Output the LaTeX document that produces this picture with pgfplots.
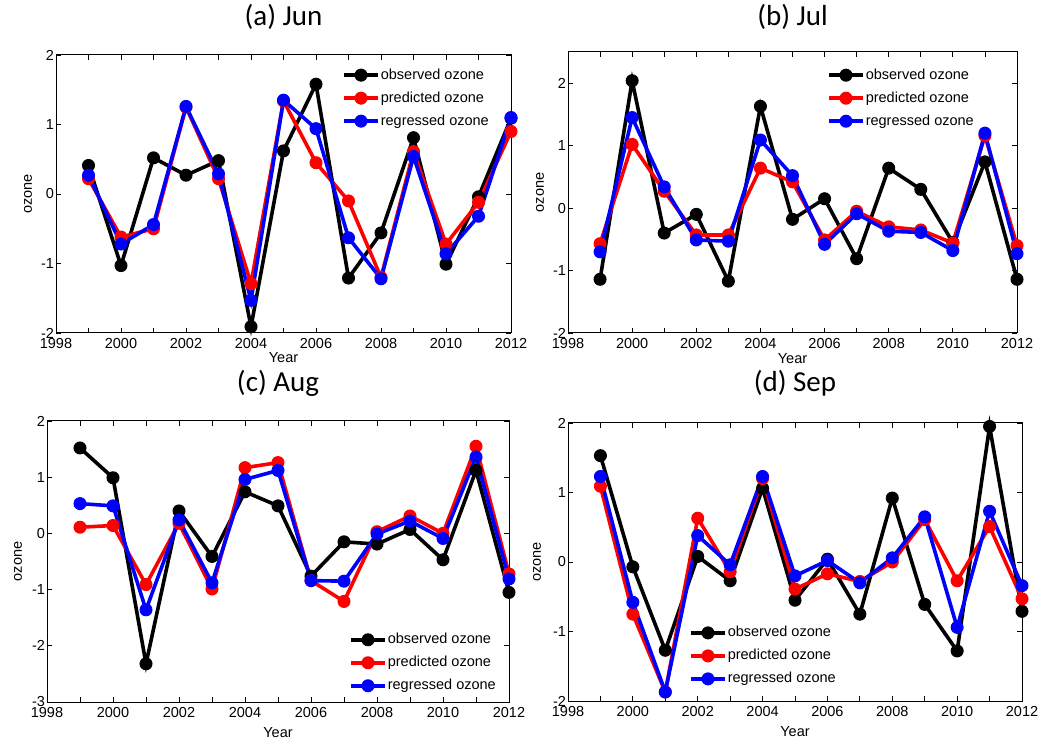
\documentclass[border=0pt]{standalone}
\usepackage{fontspec}
\setmainfont{Liberation Sans}
\newfontfamily\calibri{Carlito}
\usepackage{pgfplots}
\usepackage{pgfplotstable}
\pgfplotsset{compat=1.18}

\pgfplotstableread{
year obs pred reg
1999 0.41 0.22 0.27
2000 -1.03 -0.62 -0.72
2001 0.52 -0.50 -0.44
2002 0.27 1.25 1.26
2003 0.48 0.22 0.29
2004 -1.91 -1.29 -1.53
2005 0.62 1.34 1.35
2006 1.58 0.45 0.94
2007 -1.21 -0.10 -0.63
2008 -0.56 -1.20 -1.22
2009 0.81 0.61 0.54
2010 -1.01 -0.72 -0.86
2011 -0.04 -0.12 -0.32
2012 1.09 0.90 1.10
}\tabA

\pgfplotstableread{
year obs pred reg
1999 -1.14 -0.57 -0.70
2000 2.04 1.02 1.45
2001 -0.40 0.27 0.34
2002 -0.10 -0.43 -0.51
2003 -1.17 -0.43 -0.53
2004 1.63 0.64 1.09
2005 -0.18 0.42 0.52
2006 0.15 -0.51 -0.58
2007 -0.81 -0.05 -0.09
2008 0.64 -0.30 -0.37
2009 0.30 -0.35 -0.39
2010 -0.55 -0.56 -0.68
2011 0.74 1.16 1.20
2012 -1.14 -0.60 -0.73
}\tabB

\pgfplotstableread{
year obs pred reg
1999 1.52 0.11 0.53
2000 0.99 0.14 0.49
2001 -2.32 -0.91 -1.36
2002 0.40 0.18 0.24
2003 -0.41 -0.99 -0.88
2004 0.74 1.17 0.96
2005 0.49 1.26 1.12
2006 -0.76 -0.84 -0.84
2007 -0.15 -1.21 -0.85
2008 -0.19 0.03 -0.01
2009 0.07 0.31 0.22
2010 -0.47 0.00 -0.09
2011 1.12 1.55 1.36
2012 -1.05 -0.72 -0.81
}\tabC

\pgfplotstableread{
year obs pred reg
1999 1.53 1.09 1.23
2000 -0.07 -0.75 -0.58
2001 -1.27 -1.87 -1.87
2002 0.08 0.63 0.38
2003 -0.27 -0.14 -0.04
2004 1.06 1.20 1.23
2005 -0.55 -0.39 -0.20
2006 0.04 -0.17 0.02
2007 -0.75 -0.28 -0.30
2008 0.92 0.00 0.06
2009 -0.61 0.61 0.65
2010 -1.28 -0.27 -0.94
2011 1.95 0.51 0.73
2012 -0.71 -0.53 -0.34
}\tabD

\newcommand\lblfont{\fontsize{14.5bp}{16bp}\selectfont}

\pgfplotsset{
  panel/.style={
    scale only axis, clip=false,
    xmin=1998, xmax=2012,
    xtick={1998,2000,...,2012},
    minor xtick={1999,2001,...,2011},
    major tick length=5bp, minor tick length=5bp,
    tick style={black, line width=0.8bp},
    axis line style={line width=1bp},
    /pgf/number format/assume math mode=true,
    /pgf/number format/1000 sep={},
    ticklabel style={font=\lblfont},
    xticklabel style={yshift=-2bp},
    yticklabel style={xshift=1.5bp},
    xlabel={Year}, ylabel={ozone},
    legend style={draw=none, fill=none, inner sep=0pt,
      font=\fontsize{14.5bp}{17bp}\selectfont, row sep=7bp,
      nodes={inner sep=1bp, text height=11bp, text depth=3bp}},
    legend cell align=left,
    legend image code/.code={\draw[mark repeat=2,mark phase=2]
      plot coordinates {(0bp,0bp) (17bp,0bp) (34bp,0bp)};},
    every axis plot/.append style={line width=3.6bp, mark=*, mark size=6bp,
      mark options={solid, line width=1bp}},
    title style={font=\calibri\fontsize{29bp}{32bp}\selectfont},
  },
}

\begin{document}
\begin{tikzpicture}
\useasboundingbox (0,0) rectangle (1041bp,744bp);

% (a) Jun
\begin{axis}[panel, at={(56bp,411bp)}, anchor=south west,
  width=455bp, height=278bp, ymin=-2, ymax=2, ytick={-2,-1,0,1,2},
  title={(a) Jun},
  title style={at={(axis description cs:0.5,1)}, anchor=base, yshift=23.5bp},
  every axis x label/.style={at={(axis description cs:0.5,-0.09)}, anchor=center, font=\lblfont},
  every axis y label/.style={at={(axis description cs:-0.0615,0.5)}, rotate=90, anchor=center, font=\lblfont},
  legend style={at={(0.6286,0.957)}, anchor=north west}]
\addplot[black] table[x=year,y=obs]{\tabA};
\addplot[red] table[x=year,y=pred]{\tabA};
\addplot[blue] table[x=year,y=reg]{\tabA};
\legend{observed ozone, predicted ozone, regressed ozone}
\end{axis}

% (b) Jul
\begin{axis}[panel, at={(568bp,411bp)}, anchor=south west,
  width=449bp, height=281bp, ymin=-2, ymax=2.5, ytick={-2,-1,0,1,2},
  title={(b) Jul},
  title style={at={(axis description cs:0.5,1)}, anchor=base, yshift=20.5bp},
  every axis x label/.style={at={(axis description cs:0.5,-0.09)}, anchor=center, font=\lblfont},
  every axis y label/.style={at={(axis description cs:-0.0624,0.5)}, rotate=90, anchor=center, font=\lblfont},
  legend style={at={(0.5768,0.9466)}, anchor=north west}]
\addplot[black] table[x=year,y=obs]{\tabB};
\addplot[red] table[x=year,y=pred]{\tabB};
\addplot[blue] table[x=year,y=reg]{\tabB};
\legend{observed ozone, predicted ozone, regressed ozone}
\end{axis}

% (c) Aug
\begin{axis}[panel, at={(47bp,42bp)}, anchor=south west,
  width=462bp, height=281bp, ymin=-3, ymax=2, ytick={-3,-2,-1,0,1,2},
  title={(c) Aug},
  title style={at={(axis description cs:0.5,1)}, anchor=base, yshift=23.5bp},
  every axis x label/.style={at={(axis description cs:0.5,-0.11)}, anchor=center, font=\lblfont},
  every axis y label/.style={at={(axis description cs:-0.0628,0.5)}, rotate=90, anchor=center, font=\lblfont},
  legend style={at={(0.6537,0.0285)}, anchor=south west}]
\addplot[black] table[x=year,y=obs]{\tabC};
\addplot[red] table[x=year,y=pred]{\tabC};
\addplot[blue] table[x=year,y=reg]{\tabC};
\legend{observed ozone, predicted ozone, regressed ozone}
\end{axis}

% (d) Sep
\begin{axis}[panel, at={(568bp,43bp)}, anchor=south west,
  width=454bp, height=278bp, ymin=-2, ymax=2, ytick={-2,-1,0,1,2},
  title={(d) Sep},
  title style={at={(axis description cs:0.5,1)}, anchor=base, yshift=25.5bp},
  every axis x label/.style={at={(axis description cs:0.5,-0.11)}, anchor=center, font=\lblfont},
  every axis y label/.style={at={(axis description cs:-0.068,0.5)}, rotate=90, anchor=center, font=\lblfont},
  legend style={at={(0.2665,0.05)}, anchor=south west}]
\addplot[black] table[x=year,y=obs]{\tabD};
\addplot[red] table[x=year,y=pred]{\tabD};
\addplot[blue] table[x=year,y=reg]{\tabD};
\legend{observed ozone, predicted ozone, regressed ozone}
\end{axis}
\end{tikzpicture}
\end{document}
